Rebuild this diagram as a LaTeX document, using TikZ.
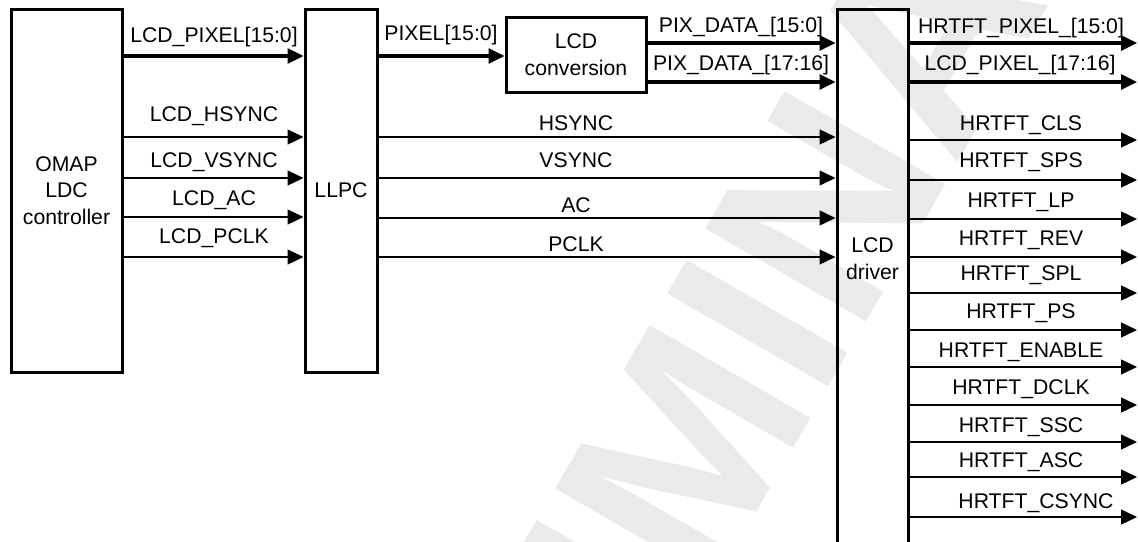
\documentclass[tikz,border=0pt]{standalone}
\usepackage{fontspec}
\setmainfont{Liberation Sans}
\newfontfamily\wmfamily{Liberation Sans}
\usetikzlibrary{arrows.meta}
\definecolor{wmgray}{RGB}{233,234,234}
\newcommand\dgfont{\fontsize{21.2}{26.5}\selectfont}
\begin{document}
\begin{tikzpicture}[x=1pt,y=-1pt,
  box/.style={draw, line width=3pt, rectangle, inner sep=0pt, align=center, font=\dgfont},
  sig/.style={line width=1.3pt, -{Triangle[length=16pt,width=15pt]}},
  bus/.style={line width=3.3pt, -{Triangle[length=16pt,width=15pt]}},
  lab/.style={anchor=base, inner sep=0pt, font=\dgfont},
]
\useasboundingbox (0,0) rectangle (1138,541);
% watermark
\node[anchor=base, rotate=60, text=wmgray, inner sep=0pt,
      font=\wmfamily\bfseries\fontsize{270}{270}\selectfont] (wm) at (772,485) {PRELIMINARY};

% boxes
\node[box, minimum width=111pt, minimum height=363pt] (omap) at (66.5,190.5) {OMAP\\LDC\\controller};
\node[box, minimum width=72pt, minimum height=363pt] (llpc) at (341,190.5) {LLPC};
\node[box, minimum width=140pt, minimum height=75pt] (conv) at (576,54.5) {LCD\\conversion};
\node[box, minimum width=71pt, minimum height=571pt] (drv) at (872.5,294.5) {};
\node[inner sep=0pt, align=center, font=\dgfont] (drvtext) at (872.5,258.5) {LCD\\driver};

% OMAP -> LLPC
\draw[bus] (omap.east |- 0,56) -- (llpc.west |- 0,56);
\node[lab] at (214,42) {LCD\_PIXEL[15:0]};
\foreach \ly/\by/\t in {137/121/LCD\_HSYNC, 178/167/LCD\_VSYNC, 217/205/LCD\_AC, 257/243/LCD\_PCLK}{
  \draw[sig] (omap.east |- 0,\ly) -- (llpc.west |- 0,\ly);
  \node[lab] at (214,\by) {\t};
}

% LLPC -> conversion
\draw[bus] (llpc.east |- 0,56) -- (conv.west |- 0,56);
\node[lab] at (441,40) {PIXEL[15:0]};

% conversion -> driver
\draw[bus] (conv.east |- 0,43) -- (drv.west |- 0,43);
\node[lab] at (741,32) {PIX\_DATA\_[15:0]};
\draw[bus] (conv.east |- 0,82) -- (drv.west |- 0,82);
\node[lab] at (741,70) {PIX\_DATA\_[17:16]};

% LLPC -> driver
\foreach \ly/\by/\t in {137/130/HSYNC, 178/167/VSYNC, 218/212/AC, 257/251/PCLK}{
  \draw[sig] (llpc.east |- 0,\ly) -- (drv.west |- 0,\ly);
  \node[lab] at (576,\by) {\t};
}

% driver outputs
\foreach \ly/\by/\bx/\t/\st [count=\i] in {
  43/33/1021/HRTFT\_PIXEL\_[15:0]/bus,
  82/70/1020/LCD\_PIXEL\_[17:16]/bus,
  140/130/1021/HRTFT\_CLS/sig,
  180/167/1021/HRTFT\_SPS/sig,
  219/207/1021/HRTFT\_LP/sig,
  257/245/1021/HRTFT\_REV/sig,
  293/280/1021/HRTFT\_SPL/sig,
  330/318/1021/HRTFT\_PS/sig,
  367/357/1021/HRTFT\_ENABLE/sig,
  405/394/1021/HRTFT\_DCLK/sig,
  442/432/1021/HRTFT\_SSC/sig,
  477/467/1021/HRTFT\_ASC/sig,
  517/508/1036/HRTFT\_CSYNC/sig}{
  \coordinate (out\i) at (1137,\ly);
  \draw[\st] (drv.east |- out\i) -- (out\i);
  \node[lab] at (\bx,\by) {\t};
}
\end{tikzpicture}
\end{document}
